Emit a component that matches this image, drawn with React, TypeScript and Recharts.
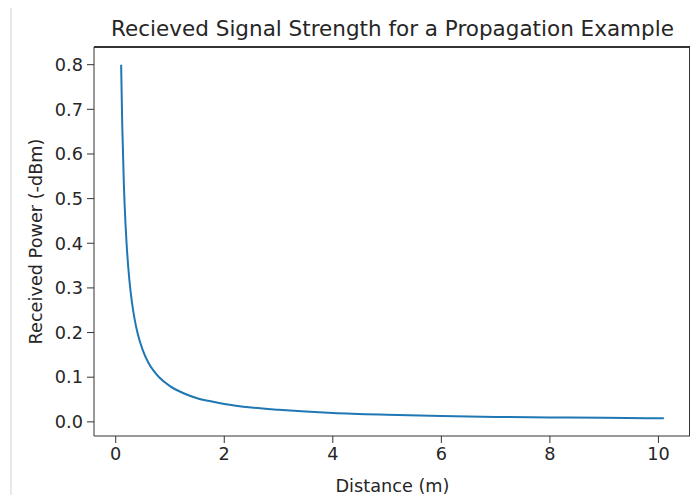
import { LineChart, Line, XAxis, YAxis } from 'recharts';

// distance (m) and received power
const distance = [0.1, 0.12, 0.15, 0.18, 0.2, 0.25, 0.3, 0.35, 0.4, 0.5, 0.6, 0.7, 0.8, 1.0, 1.25, 1.5, 1.75, 2.0, 2.5, 3.0, 3.5, 4.0, 5.0, 6.0, 7.0, 8.0, 9.0, 10.1];
const power = [0.8, 0.667, 0.533, 0.444, 0.4, 0.32, 0.267, 0.229, 0.2, 0.16, 0.133, 0.114, 0.1, 0.08, 0.064, 0.053, 0.046, 0.04, 0.032, 0.027, 0.023, 0.02, 0.016, 0.013, 0.011, 0.01, 0.009, 0.008];

const xTicks = [0, 2, 4, 6, 8, 10];
const yTicks = [0, 0.1, 0.2, 0.3, 0.4, 0.5, 0.6, 0.7, 0.8];

const X_DOMAIN: [number, number] = [-0.4, 10.6];
const Y_DOMAIN: [number, number] = [-0.0317, 0.8396];

const FONT = '"DejaVu Sans", sans-serif';
const TEXT = '#262626';
const FRAME = '#333';

// plot box inside the 698x503 chart
const PLOT = { left: 94, top: 47, right: 691, bottom: 436 };

const data = distance.map((d, i) => ({ d, p: power[i] }));

export default function App() {
  return (
    <div style={{ position: 'relative', width: 698, height: 503, margin: -8, background: '#fff', overflow: 'hidden', fontFamily: FONT }}>
      <div
        style={{
          position: 'absolute',
          left: 10,
          top: 3,
          width: 720,
          height: 520,
          borderLeft: '2px solid #e8e8e8',
          borderTop: '2px solid #e8e8e8',
        }}
      />
      <div
        style={{
          position: 'absolute',
          left: PLOT.left,
          width: PLOT.right - PLOT.left,
          top: 16,
          textAlign: 'center',
          fontSize: 21.5,
          lineHeight: '26px',
          color: TEXT,
          whiteSpace: 'nowrap',
        }}
      >
        Recieved Signal Strength for a Propagation Example
      </div>
      <div style={{ position: 'absolute', left: 0, top: 0 }}>
        <LineChart
          width={698}
          height={503}
          data={data}
          margin={{ top: PLOT.top, right: 698 - PLOT.right, bottom: 0, left: 0 }}
        >
          <XAxis
            dataKey="d"
            type="number"
            domain={X_DOMAIN}
            allowDataOverflow
            ticks={xTicks}
            height={503 - PLOT.bottom}
            axisLine={{ stroke: FRAME }}
            tickLine={{ stroke: FRAME, strokeWidth: 1 }}
            tickSize={7}
            tickMargin={4}
            tick={{ fill: TEXT, fontSize: 17.7, fontFamily: FONT }}
            label={{
              value: 'Distance (m)',
              position: 'insideBottom',
              offset: 11,
              fill: TEXT,
              fontSize: 17.7,
              fontFamily: FONT,
            }}
          />
          <YAxis
            type="number"
            domain={Y_DOMAIN}
            allowDataOverflow
            ticks={yTicks}
            width={PLOT.left}
            axisLine={{ stroke: FRAME }}
            tickLine={{ stroke: FRAME, strokeWidth: 1 }}
            tickSize={7}
            tickMargin={4}
            tickFormatter={(v: number) => v.toFixed(1)}
            tick={{ fill: TEXT, fontSize: 17.7, fontFamily: FONT }}
            label={{
              value: 'Received Power (-dBm)',
              angle: -90,
              position: 'insideLeft',
              offset: 36,
              fill: TEXT,
              fontSize: 17.7,
              fontFamily: FONT,
              style: { textAnchor: 'middle' },
            }}
          />
          <Line
            dataKey="p"
            type="monotone"
            stroke="#1f77b4"
            strokeWidth={2}
            dot={false}
            isAnimationActive={false}
          />
        </LineChart>
      </div>
      {/* top and right sides of the axes box */}
      <div
        style={{
          position: 'absolute',
          zIndex: 5,
          left: PLOT.left,
          top: PLOT.top - 1,
          width: PLOT.right - PLOT.left,
          height: 2,
          background: FRAME,
        }}
      />
      <div
        style={{
          position: 'absolute',
          zIndex: 5,
          left: PLOT.right - 2,
          top: PLOT.top - 1,
          width: 2,
          height: PLOT.bottom - PLOT.top + 1,
          background: FRAME,
        }}
      />
    </div>
  );
}
